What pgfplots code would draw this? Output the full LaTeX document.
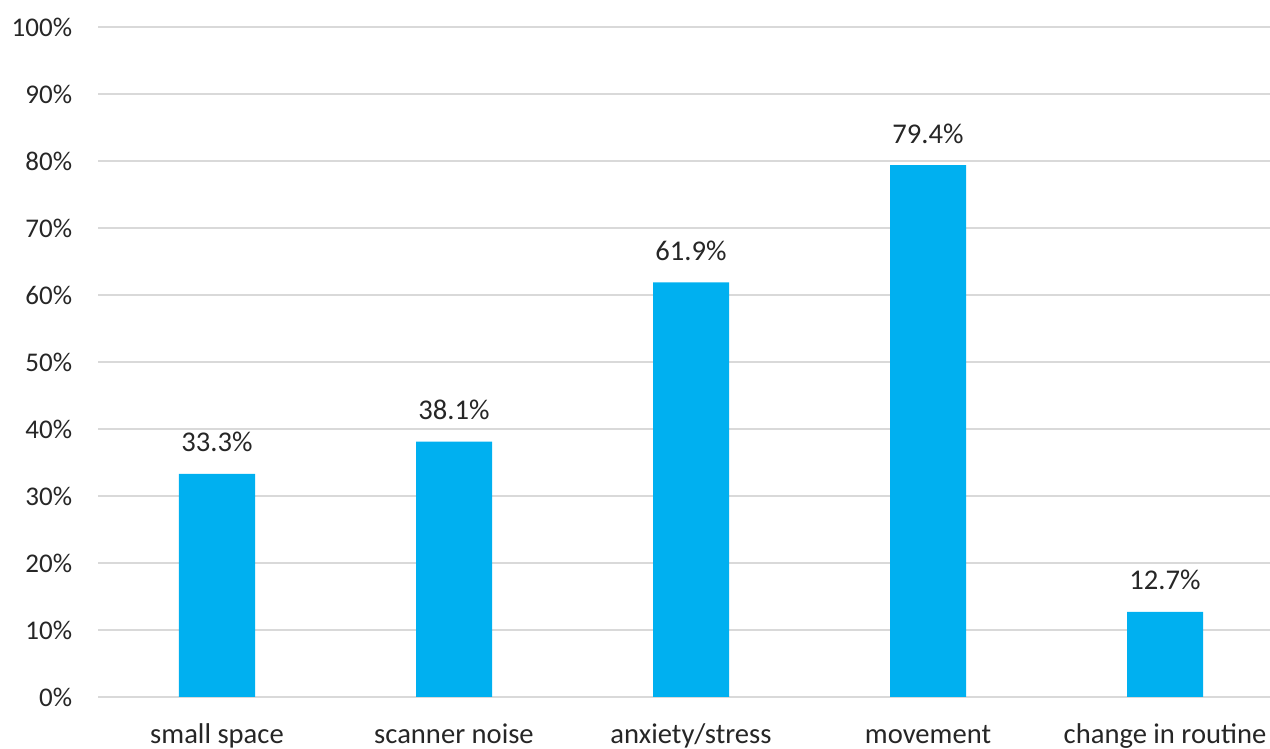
\documentclass[border=0pt]{standalone}
\usepackage{pgfplots}
\pgfplotsset{compat=1.18}
\usepackage{fontspec}
\setmainfont{Carlito}
\definecolor{barblue}{HTML}{00B0F0}
\definecolor{gridgray}{HTML}{D9D9D9}
\definecolor{txt}{HTML}{262626}
\begin{document}
\begin{tikzpicture}
\begin{axis}[
  name=ax,
  scale only axis,
  width=585.75pt, height=335pt,
  xmin=-0.5, xmax=4.443,
  ymin=0, ymax=100,
  ytick={0,10,...,100},
  yticklabel={\pgfmathprintnumber{\tick}\%},
  xtick={0,1,2,3,4},
  xticklabels={small space, scanner noise, anxiety/stress, movement, change in routine},
  ymajorgrids,
  grid style={gridgray, line width=1pt},
  axis line style={draw=none},
  major tick length=0pt,
  font=\fontsize{13.5pt}{16pt}\selectfont,
  /pgf/number format/assume math mode=true,
  tick label style={text=txt},
  yticklabel style={anchor=east, inner sep=0pt, xshift=-13pt},
  xticklabel style={anchor=base, inner sep=0pt, yshift=-23.5pt, font=\fontsize{14.3pt}{17pt}\selectfont},
  clip=false,
]
\addplot[ybar, bar width=38pt, fill=barblue, draw=none,
  nodes near coords={\pgfmathprintnumber[fixed,precision=1,fixed zerofill]{\pgfplotspointmeta}\%},
  every node near coord/.append style={anchor=base, inner sep=0pt, yshift=11pt, text=txt, font=\fontsize{14.3pt}{17pt}\selectfont},
] coordinates {(0,33.3) (1,38.1) (2,61.9) (3,79.4) (4,12.7)};
\coordinate (bl) at (rel axis cs:0,0);
\coordinate (tr) at (rel axis cs:1,1);
\end{axis}
\pgfresetboundingbox
\path ([shift={(-49.25pt,-26pt)}]bl) rectangle ([shift={(0pt,13.5pt)}]tr);
\end{tikzpicture}
\end{document}
